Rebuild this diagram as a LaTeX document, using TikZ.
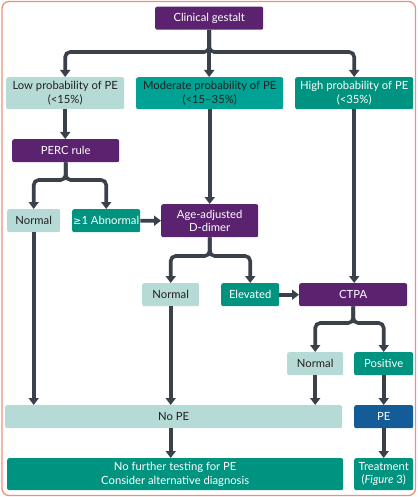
\documentclass[tikz,border=0pt]{standalone}
\usepackage{fontspec}
\setmainfont{Lato}
\usetikzlibrary{arrows.meta}
\definecolor{purp}{HTML}{5B2270}
\definecolor{lteal}{HTML}{B6DAD6}
\definecolor{mteal}{HTML}{00A293}
\definecolor{dteal}{HTML}{00937F}
\definecolor{peblue}{HTML}{135C98}
\definecolor{arrc}{HTML}{3B414A}
\definecolor{bord}{HTML}{EA9279}
\definecolor{txtd}{HTML}{231F20}
\tikzset{
  box/.style={rectangle, rounded corners=2bp, inner sep=0pt, align=center, font=\fontsize{11.3}{13.5}\selectfont, anchor=north west},
  bpurp/.style={box, fill=purp, text=white},
  blight/.style={box, fill=lteal, text=txtd},
  bmid/.style={box, fill=mteal, text=txtd},
  bdark/.style={box, fill=dteal, text=white},
  bblue/.style={box, fill=peblue, text=white},
  arr/.style={draw=arrc, line width=3.6bp, rounded corners=5bp, -{Triangle[width=10bp,length=7bp]}}
}
\begin{document}
\begin{tikzpicture}[x=1bp,y=-1bp]
\useasboundingbox (0,0) rectangle (417,497);
\draw[bord, line width=1.3bp, rounded corners=7bp] (2,1.5) rectangle (415.5,495.5);
% nodes
\node[bpurp, minimum width=108bp, minimum height=23bp] (cg) at (155,6.5) {Clinical gestalt};
\node[blight, minimum width=118bp, minimum height=32bp] (low) at (6,77) {Low probability of PE\\(<15\%)};
\node[bmid, minimum width=147bp, minimum height=32bp] (mod) at (136,77) {Moderate probability of PE\\(<15--35\%)};
\node[bdark, minimum width=118bp, minimum height=32bp] (high) at (295,77) {High probability of PE\\(<35\%)};
\node[bpurp, minimum width=107bp, minimum height=23bp] (perc) at (12,139) {PERC rule};
\node[blight, minimum width=53bp, minimum height=23bp] (n1) at (7,209) {Normal};
\node[bdark, minimum width=68bp, minimum height=23bp] (abn) at (72,209) {{\fontspec{DejaVu Sans}\fontsize{10}{12}\selectfont ≥}1 Abnormal};
\node[bpurp, minimum width=97bp, minimum height=33bp] (dd) at (161,204) {Age-adjusted\\D-dimer};
\node[blight, minimum width=57bp, minimum height=23bp] (n2) at (142,283) {Normal};
\node[bdark, minimum width=58bp, minimum height=23bp] (elev) at (221,283) {Elevated};
\node[bpurp, minimum width=108bp, minimum height=23bp] (ctpa) at (299,283) {CTPA};
\node[blight, minimum width=56bp, minimum height=23bp] (n3) at (287,352) {Normal};
\node[bdark, minimum width=59bp, minimum height=23bp] (pos) at (354,352) {Positive};
\node[blight, minimum width=337bp, minimum height=23bp] (nope) at (5,405) {No PE};
\node[bblue, minimum width=59bp, minimum height=23bp] (pe) at (354,405) {PE};
\node[bdark, minimum width=336bp, minimum height=32bp] (nft) at (7,458) {No further testing for PE\\Consider alternative diagnosis};
\node[bdark, minimum width=59bp, minimum height=32bp] (tr) at (354,458) {Treatment\\(\textit{Figure} 3)};
% coordinates
\coordinate (y1) at (0,52);
\coordinate (y2) at (0,180);
\coordinate (y3) at (0,256);
\coordinate (y4) at (0,323);
% connectors
\draw[arr] (cg.south) -- (cg.south |- y1) -| (low.north);
\draw[arr] (cg.south) -- (cg.south |- y1) -| (high.north);
\draw[arr] (cg.south) -- (cg.south |- mod.north);
\draw[arr] (low.south) -- (low.south |- perc.north);
\draw[arr] (perc.south) -- (perc.south |- y2) -| (n1.north);
\draw[arr] (perc.south) -- (perc.south |- y2) -| (abn.north);
\draw[arr] (abn.east) -- (dd.west);
\draw[arr] (mod.south) -- (mod.south |- dd.north);
\draw[arr] (dd.south) -- (dd.south |- y3) -| (n2.north);
\draw[arr] (dd.south) -- (dd.south |- y3) -| (elev.north);
\draw[arr] (elev.east) -- (ctpa.west);
\draw[arr] (high.south) -- (high.south |- ctpa.north);
\draw[arr] (ctpa.south) -- (ctpa.south |- y4) -| (n3.north);
\draw[arr] (ctpa.south) -- (ctpa.south |- y4) -| (pos.north);
\draw[arr] (n1.south) -- (n1.south |- nope.north);
\draw[arr] (n2.south) -- (n2.south |- nope.north);
\draw[arr] (n3.south) -- (n3.south |- nope.north);
\draw[arr] (n2.south |- nope.south) -- (n2.south |- nft.north);
\draw[arr] (pos.south) -- (pe.north);
\draw[arr] (pe.south) -- (tr.north);
\end{tikzpicture}
\end{document}
